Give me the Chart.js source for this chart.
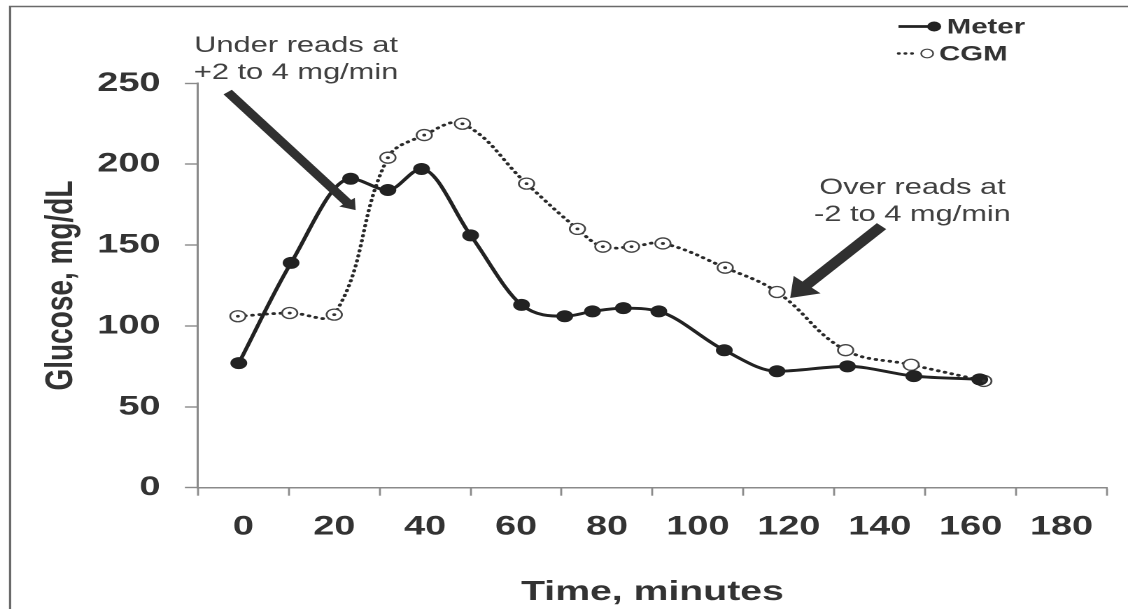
<!DOCTYPE html>
<html><head><meta charset="utf-8">
<script src="https://cdn.jsdelivr.net/npm/chart.js@4.4.1/dist/chart.umd.min.js"></script>
<style>
html,body{margin:0;padding:0;background:#fff;overflow:hidden;width:1128px;height:609px}
#wrap{width:806px;height:609px;transform:scaleX(1.3995);transform-origin:0 0}
canvas{display:block}
</style></head><body>
<div id="wrap"><canvas id="c" width="806" height="609"></canvas></div>
<script>
// ---- data ----
const meterTime    = [-1, 10.5, 23.6, 31.8, 39.2, 50, 61.2, 70.7, 76.8, 83.6, 91.4, 105.8, 117.4, 132.9, 147.5, 162];
const meterGlucose = [77, 139, 191, 184, 197, 156, 113, 106, 109, 111, 109, 85, 72, 75, 69, 67];
const cgmTime      = [-1.2, 10.2, 20, 31.8, 39.8, 48.2, 62.3, 73.5, 79.1, 85.4, 92.3, 106, 117.4, 132.5, 146.9, 162.9];
const cgmGlucose   = [106, 108, 107, 204, 218, 225, 188, 160, 149, 149, 151, 136, 121, 85, 76, 66];
const xTickLabels  = [0, 20, 40, 60, 80, 100, 120, 140, 160, 180];
const yTickLabels  = [0, 50, 100, 150, 200, 250];
const seriesNames  = ['Meter', 'CGM'];
const axisTitles   = ['Time, minutes', 'Glucose, mg/dL'];
const noteLines1   = ['Under reads at', '+2 to 4 mg/min'];
const noteLines2   = ['Over reads at', '-2 to 4 mg/min'];
// annotation anchors in data units (time, glucose)
const note1Anchor  = [11.6, 273, 256.3];
const note2Anchor  = [147.2, 185.2, 168.5];
const arrow1       = [-3.45, 244.6, 24.7, 171.6];
const arrow2       = [140.4, 161.7, 120.3, 117.3];

const FONT = "'Liberation Sans', Arial, sans-serif";
const TXT = '#333';
const AXIS = '#8a8a8a';
const INK = '#222';
const cgmNoDot = [12, 13, 14];

const extras = {
  id: 'extras',
  beforeDraw(chart) {
    const ctx = chart.ctx;
    ctx.save();
    ctx.strokeStyle = '#6a6a6a';
    ctx.lineWidth = 1.6;
    ctx.beginPath();
    ctx.moveTo(7.2, 609);
    ctx.lineTo(7.2, 6.5);
    ctx.lineTo(806, 6.5);
    ctx.stroke();
    ctx.restore();
  },
  afterDatasetsDraw(chart) {
    const ctx = chart.ctx;
    const xs = chart.scales.x, ys = chart.scales.y;
    // centre dots of CGM circles
    const meta = chart.getDatasetMeta(1);
    ctx.save();
    ctx.fillStyle = '#333';
    meta.data.forEach((pt, i) => {
      if (cgmNoDot.includes(i)) return;
      ctx.beginPath();
      ctx.arc(pt.x, pt.y, 1.4, 0, Math.PI * 2);
      ctx.fill();
    });
    // arrows
    const drawArrow = (a, lw, hl, hw) => {
      const x0 = xs.getPixelForValue(a[0]), y0 = ys.getPixelForValue(a[1]);
      const x1 = xs.getPixelForValue(a[2]), y1 = ys.getPixelForValue(a[3]);
      const dx = x1 - x0, dy = y1 - y0, len = Math.hypot(dx, dy);
      const ux = dx / len, uy = dy / len, nx = -uy, ny = ux;
      const bx = x1 - ux * hl, by = y1 - uy * hl;
      ctx.strokeStyle = '#303030';
      ctx.fillStyle = '#303030';
      ctx.lineWidth = lw;
      ctx.lineCap = 'butt';
      ctx.beginPath();
      ctx.moveTo(x0, y0);
      ctx.lineTo(bx + ux, by + uy);
      ctx.stroke();
      ctx.beginPath();
      ctx.moveTo(x1, y1);
      ctx.lineTo(bx + nx * hw, by + ny * hw);
      ctx.lineTo(bx - nx * hw, by - ny * hw);
      ctx.closePath();
      ctx.fill();
    };
    drawArrow(arrow1, 7.5, 10, 7);
    drawArrow(arrow2, 9, 18, 13);
    // notes
    ctx.fillStyle = '#404040';
    ctx.font = `22px ${FONT}`;
    ctx.textAlign = 'center';
    ctx.textBaseline = 'middle';
    const drawNote = (lines, anc) => {
      const x = xs.getPixelForValue(anc[0]);
      lines.forEach((t, i) => ctx.fillText(t, x, ys.getPixelForValue(anc[1 + i])));
    };
    drawNote(noteLines1, note1Anchor);
    drawNote(noteLines2, note2Anchor);
    ctx.restore();
  },
  afterDraw(chart) {
    const ctx = chart.ctx;
    const d0 = chart.data.datasets[0], d1 = chart.data.datasets[1];
    ctx.save();
    // Meter row
    ctx.strokeStyle = d0.borderColor;
    ctx.lineWidth = 2.8;
    ctx.beginPath(); ctx.moveTo(642, 26.5); ctx.lineTo(666, 26.5); ctx.stroke();
    ctx.fillStyle = d0.pointBackgroundColor;
    ctx.beginPath(); ctx.arc(667.5, 26.5, 5, 0, Math.PI * 2); ctx.fill();
    // CGM row
    ctx.strokeStyle = d1.borderColor;
    ctx.lineWidth = 2.4;
    ctx.lineCap = 'round';
    ctx.setLineDash([0.5, 4.2]);
    ctx.beginPath(); ctx.moveTo(642, 53.5); ctx.lineTo(656, 53.5); ctx.stroke();
    ctx.setLineDash([]);
    ctx.fillStyle = '#fff';
    ctx.strokeStyle = d1.pointBorderColor;
    ctx.lineWidth = 1.2;
    ctx.beginPath(); ctx.arc(662.5, 53.5, 4.3, 0, Math.PI * 2); ctx.fill(); ctx.stroke();
    ctx.fillStyle = TXT;
    ctx.font = `bold 21px ${FONT}`;
    ctx.textAlign = 'left';
    ctx.textBaseline = 'middle';
    ctx.fillText(d0.label, 676.5, 27.5);
    ctx.fillText(d1.label, 671, 54.5);
    ctx.restore();
  }
};

new Chart(document.getElementById('c'), {
  type: 'line',
  data: {
    datasets: [
      {
        label: seriesNames[0],
        data: meterTime.map((t, i) => ({ x: t, y: meterGlucose[i] })),
        borderColor: INK, borderWidth: 2.9,
        pointBackgroundColor: INK, pointBorderColor: INK, pointBorderWidth: 0,
        pointRadius: 6, pointStyle: 'circle',
        cubicInterpolationMode: 'monotone', fill: false
      },
      {
        label: seriesNames[1],
        data: cgmTime.map((t, i) => ({ x: t, y: cgmGlucose[i] })),
        borderColor: '#2a2a2a', borderWidth: 2.8,
        borderDash: [0.5, 4.6], borderCapStyle: 'round',
        pointBackgroundColor: '#fff', pointBorderColor: '#444', pointBorderWidth: 1.3,
        pointRadius: 5.5, pointStyle: 'circle',
        tension: 0.4, fill: false
      }
    ]
  },
  options: {
    responsive: false,
    animation: false,
    devicePixelRatio: 2,
    layout: { padding: { left: 0, right: 10, top: 83.3, bottom: 0 } },
    plugins: { legend: { display: false }, tooltip: { enabled: false } },
    scales: {
      x: {
        type: 'linear', min: -10, max: 190,
        afterFit: s => { s.height = 121.3; },
        ticks: {
          stepSize: 10, autoSkip: false, maxRotation: 0, minRotation: 0,
          padding: 15,
          color: TXT,
          font: { family: FONT, size: 27, weight: 'bold' },
          callback: v => xTickLabels.includes(v) ? String(v) : ''
        },
        grid: {
          drawOnChartArea: false, drawTicks: true, tickLength: 8, tickWidth: 1.4,
          tickColor: c => (c.tick && Math.abs(c.tick.value % 20) === 10) ? AXIS : 'rgba(0,0,0,0)'
        },
        border: { display: true, color: AXIS, width: 1.5 },
        title: {
          display: true, text: axisTitles[0], color: TXT,
          font: { family: FONT, size: 28, weight: 'bold' },
          padding: { top: 4, bottom: 0 }
        }
      },
      y: {
        min: 0, max: 250,
        afterFit: s => { s.width = 141.4; },
        afterBuildTicks: s => { s.ticks = yTickLabels.map(v => ({ value: v })); },
        ticks: {
          padding: 17.5, color: TXT,
          font: { family: FONT, size: 27, weight: 'bold' }
        },
        grid: { drawOnChartArea: false, drawTicks: true, tickLength: 9.3, tickWidth: 1.4, tickColor: AXIS },
        border: { display: true, color: AXIS, width: 1.5 },
        title: {
          display: true, text: axisTitles[1], color: TXT,
          font: { family: FONT, size: 28, weight: 'bold' },
          padding: { top: 27, bottom: 0 }
        }
      }
    }
  },
  plugins: [extras]
});
</script>
</body></html>
